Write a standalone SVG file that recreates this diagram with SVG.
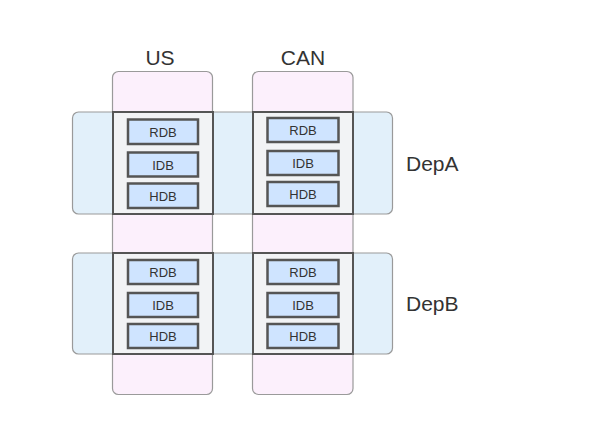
<svg xmlns="http://www.w3.org/2000/svg" width="593" height="435" viewBox="0 0 593 435">
<style>
.col{fill:#fcf0fc;stroke:#9a9a9a;stroke-width:1.2}
.row{fill:#e2f0fa;stroke:#9a9a9a;stroke-width:1.2}
.cell{fill:#f2f3f5;stroke:#555;stroke-width:2}
.db{fill:#cfe4ff;stroke:#555;stroke-width:2.5}
.lbl{font-family:"Liberation Sans",Arial,sans-serif;font-size:21px;fill:#333}
.t{font-family:"Liberation Sans",Arial,sans-serif;font-size:13px;fill:#333;text-anchor:middle}
</style>
<rect width="593" height="435" fill="#fff"/>
<g id="col-US"><rect class="col" x="112.5" y="71.5" width="100" height="323" rx="6"/><text class="lbl" x="160" y="65" text-anchor="middle">US</text></g>
<g id="col-CAN"><rect class="col" x="252.5" y="71.5" width="100.5" height="323" rx="6"/><text class="lbl" x="303" y="65" text-anchor="middle">CAN</text></g>
<g id="row-DepA"><rect class="row" x="72.5" y="112" width="320" height="102" rx="6"/><text class="lbl" x="406" y="171">DepA</text></g>
<g id="row-DepB"><rect class="row" x="72.5" y="253" width="320" height="101" rx="6"/><text class="lbl" x="406" y="310.5">DepB</text></g>
<g id="cell-US-DepA">
<rect class="cell" x="113" y="112" width="100" height="102"/>
<rect class="db" x="128" y="119.5" width="70" height="24.5"/><text class="t" x="163" y="136.5">RDB</text>
<rect class="db" x="128" y="152.5" width="70" height="24"/><text class="t" x="163" y="169.5">IDB</text>
<rect class="db" x="128" y="183.5" width="70" height="24.5"/><text class="t" x="163" y="200.5">HDB</text>
</g>
<g id="cell-CAN-DepA">
<rect class="cell" x="253" y="112" width="100" height="102"/>
<rect class="db" x="267.5" y="118" width="71" height="24"/><text class="t" x="303" y="134.5">RDB</text>
<rect class="db" x="267.5" y="151" width="71" height="24"/><text class="t" x="303" y="167.5">IDB</text>
<rect class="db" x="267.5" y="182" width="71" height="24"/><text class="t" x="303" y="198.5">HDB</text>
</g>
<g id="cell-US-DepB">
<rect class="cell" x="113" y="253" width="100" height="101"/>
<rect class="db" x="128" y="260" width="70" height="24"/><text class="t" x="163" y="276.5">RDB</text>
<rect class="db" x="128" y="293" width="70" height="24"/><text class="t" x="163" y="309.5">IDB</text>
<rect class="db" x="128" y="324" width="70" height="24"/><text class="t" x="163" y="340.5">HDB</text>
</g>
<g id="cell-CAN-DepB">
<rect class="cell" x="253" y="253" width="100" height="101"/>
<rect class="db" x="267.5" y="260" width="71" height="24"/><text class="t" x="303" y="276.5">RDB</text>
<rect class="db" x="267.5" y="293" width="71" height="24"/><text class="t" x="303" y="309.5">IDB</text>
<rect class="db" x="267.5" y="324" width="71" height="24"/><text class="t" x="303" y="340.5">HDB</text>
</g>
<g id="connectors"></g>
</svg>
